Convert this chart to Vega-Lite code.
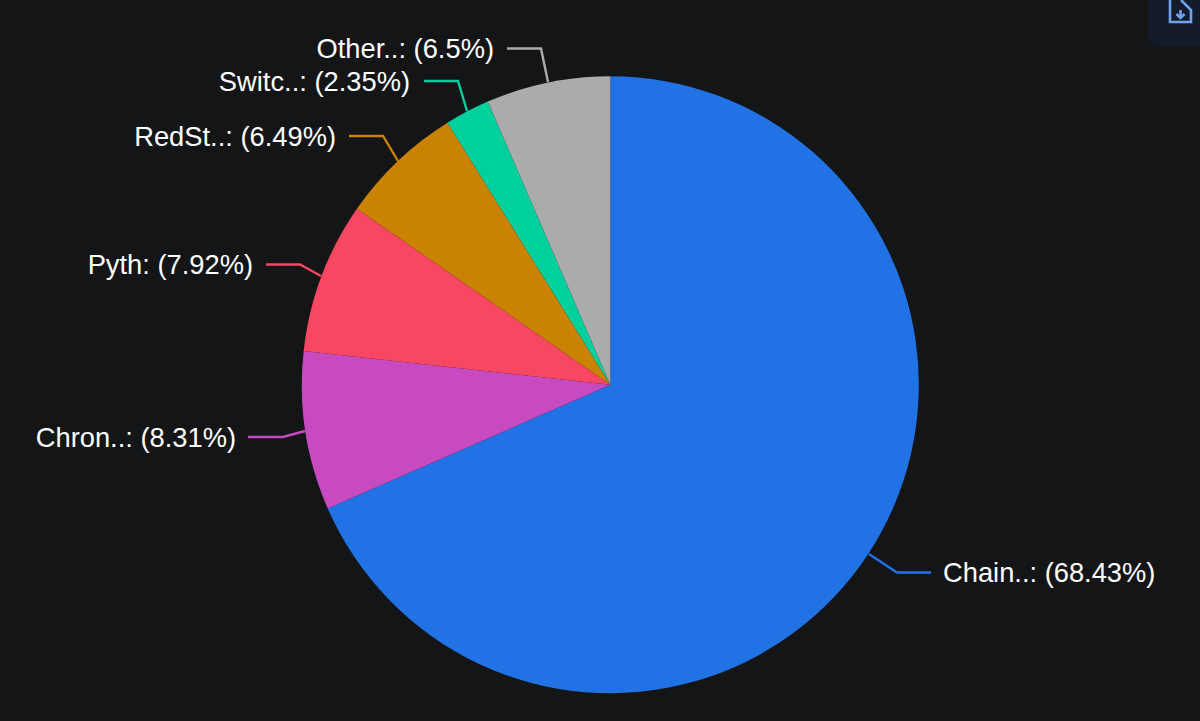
{
  "$schema": "https://vega.github.io/schema/vega-lite/v6.json",
  "width": 1200,
  "height": 721,
  "autosize": {"type": "fit", "contains": "padding"},
  "padding": 0,
  "background": "#141517",
  "config": {"view": {"stroke": null}},
  "datasets": {
    "shares": [
      {"name": "Chainlink", "share": 68.43, "rank": 1, "label": "Chain..: (68.43%)", "lx": 943, "ly": 574, "side": "left"},
      {"name": "Chronicle", "share": 8.31, "rank": 2, "label": "Chron..: (8.31%)", "lx": 236, "ly": 439, "side": "right"},
      {"name": "Pyth", "share": 7.92, "rank": 3, "label": "Pyth: (7.92%)", "lx": 253, "ly": 266, "side": "right"},
      {"name": "RedStone", "share": 6.49, "rank": 4, "label": "RedSt..: (6.49%)", "lx": 336, "ly": 138, "side": "right"},
      {"name": "Switchboard", "share": 2.35, "rank": 5, "label": "Switc..: (2.35%)", "lx": 410, "ly": 83, "side": "right"},
      {"name": "Other", "share": 6.5, "rank": 6, "label": "Other..: (6.5%)", "lx": 494, "ly": 50, "side": "right"}
    ],
    "leaders": [
      {"name": "Chainlink", "step": 1, "x": 869, "y": 554},
      {"name": "Chainlink", "step": 2, "x": 897, "y": 572.5},
      {"name": "Chainlink", "step": 3, "x": 931, "y": 572.5},
      {"name": "Chronicle", "step": 1, "x": 305, "y": 431},
      {"name": "Chronicle", "step": 2, "x": 283, "y": 437},
      {"name": "Chronicle", "step": 3, "x": 248, "y": 437},
      {"name": "Pyth", "step": 1, "x": 321, "y": 276},
      {"name": "Pyth", "step": 2, "x": 300, "y": 264.5},
      {"name": "Pyth", "step": 3, "x": 266, "y": 264.5},
      {"name": "RedStone", "step": 1, "x": 398, "y": 161},
      {"name": "RedStone", "step": 2, "x": 383, "y": 136},
      {"name": "RedStone", "step": 3, "x": 349, "y": 136},
      {"name": "Switchboard", "step": 1, "x": 467, "y": 111},
      {"name": "Switchboard", "step": 2, "x": 458, "y": 81},
      {"name": "Switchboard", "step": 3, "x": 424, "y": 81},
      {"name": "Other", "step": 1, "x": 548, "y": 82},
      {"name": "Other", "step": 2, "x": 541, "y": 48.5},
      {"name": "Other", "step": 3, "x": 507, "y": 48.5}
    ],
    "icon": [
      {"part": "page", "step": 1, "x": 1181, "y": 0},
      {"part": "page", "step": 2, "x": 1191, "y": 10},
      {"part": "page", "step": 3, "x": 1191, "y": 22},
      {"part": "page", "step": 4, "x": 1170, "y": 22},
      {"part": "page", "step": 5, "x": 1170, "y": 0},
      {"part": "stem", "step": 1, "x": 1180.5, "y": 10},
      {"part": "stem", "step": 2, "x": 1180.5, "y": 17},
      {"part": "head", "step": 1, "x": 1176.5, "y": 14},
      {"part": "head", "step": 2, "x": 1180.5, "y": 18},
      {"part": "head", "step": 3, "x": 1184.5, "y": 14}
    ]
  },
  "layer": [
    {
      "data": {"values": [{"x": 1148, "x2": 1200, "y": 0, "y2": 46}]},
      "mark": {"type": "rect", "fill": "#141b2b", "cornerRadiusBottomLeft": 11},
      "encoding": {
        "x": {"field": "x", "type": "quantitative", "scale": {"domain": [0, 1200]}, "axis": null},
        "x2": {"field": "x2"},
        "y": {"field": "y", "type": "quantitative", "scale": {"domain": [721, 0]}, "axis": null},
        "y2": {"field": "y2"}
      }
    },
    {
      "data": {"name": "icon"},
      "mark": {"type": "line", "color": "#6ea3ec", "strokeWidth": 2.6, "clip": true},
      "encoding": {
        "x": {"field": "x", "type": "quantitative", "scale": {"domain": [0, 1200]}, "axis": null},
        "y": {"field": "y", "type": "quantitative", "scale": {"domain": [721, 0]}, "axis": null},
        "detail": {"field": "part"},
        "order": {"field": "step"}
      }
    },
    {
      "data": {"name": "shares"},
      "mark": {"type": "arc", "outerRadius": 308.5},
      "encoding": {
        "x": {"datum": 610.3, "type": "quantitative", "scale": {"domain": [0, 1200]}, "axis": null},
        "y": {"datum": 384.7, "type": "quantitative", "scale": {"domain": [721, 0]}, "axis": null},
        "theta": {"field": "share", "type": "quantitative", "stack": true},
        "order": {"field": "rank"},
        "color": {
          "field": "name",
          "type": "nominal",
          "legend": null,
          "scale": {
            "domain": ["Chainlink", "Chronicle", "Pyth", "RedStone", "Switchboard", "Other"],
            "range": ["#2172e5", "#c74ac0", "#f84763", "#c98300", "#00cf9e", "#ababab"]
          }
        }
      }
    },
    {
      "data": {"name": "leaders"},
      "mark": {"type": "line", "strokeWidth": 2.4},
      "encoding": {
        "x": {"field": "x", "type": "quantitative", "scale": {"domain": [0, 1200]}, "axis": null},
        "y": {"field": "y", "type": "quantitative", "scale": {"domain": [721, 0]}, "axis": null},
        "order": {"field": "step"},
        "color": {"field": "name", "type": "nominal", "legend": null}
      }
    },
    {
      "data": {"name": "shares"},
      "transform": [{"filter": "datum.side == 'right'"}],
      "mark": {"type": "text", "align": "right", "baseline": "middle", "font": "Liberation Sans", "fontSize": 27.3, "color": "#ffffff"},
      "encoding": {
        "x": {"field": "lx", "type": "quantitative", "scale": {"domain": [0, 1200]}, "axis": null},
        "y": {"field": "ly", "type": "quantitative", "scale": {"domain": [721, 0]}, "axis": null},
        "text": {"field": "label"}
      }
    },
    {
      "data": {"name": "shares"},
      "transform": [{"filter": "datum.side == 'left'"}],
      "mark": {"type": "text", "align": "left", "baseline": "middle", "font": "Liberation Sans", "fontSize": 27.3, "color": "#ffffff"},
      "encoding": {
        "x": {"field": "lx", "type": "quantitative", "scale": {"domain": [0, 1200]}, "axis": null},
        "y": {"field": "ly", "type": "quantitative", "scale": {"domain": [721, 0]}, "axis": null},
        "text": {"field": "label"}
      }
    }
  ]
}
